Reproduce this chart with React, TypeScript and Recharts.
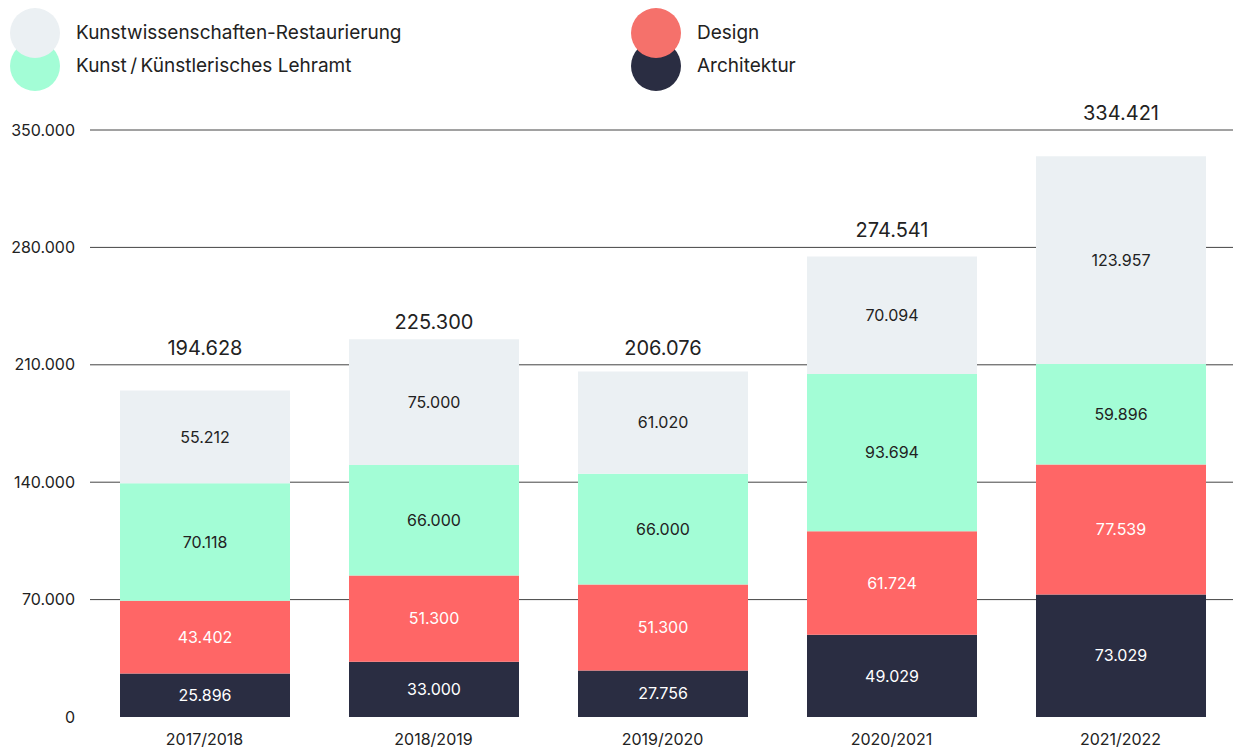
import React from 'react';
import { BarChart, Bar, XAxis, YAxis, CartesianGrid, LabelList } from 'recharts';

const CATEGORIES = ['2017/2018', '2018/2019', '2019/2020', '2020/2021', '2021/2022'];
const ARCHITEKTUR = [25896, 33000, 27756, 49029, 73029];
const DESIGN = [43402, 51300, 51300, 61724, 77539];
const LEHRAMT = [70118, 66000, 66000, 93694, 59896];
const RESTAURIERUNG = [55212, 75000, 61020, 70094, 123957];
const TOTALS = [194628, 225300, 206076, 274541, 334421];
const Y_TICKS = [0, 70000, 140000, 210000, 280000, 350000];

const COLORS = {
  restaurierung: '#ebf0f3',
  lehramt: '#a3fdd6',
  design: '#ff6666',
  architektur: '#2a2d42',
};

const LEGEND = [
  { name: 'Kunstwissenschaften-Restaurierung', color: COLORS.restaurierung },
  { name: 'Kunst\u2009/\u2009Künstlerisches Lehramt', color: COLORS.lehramt },
  { name: 'Design', color: '#f5716b' },
  { name: 'Architektur', color: COLORS.architektur },
];

const data = CATEGORIES.map((year, i) => ({
  year,
  architektur: ARCHITEKTUR[i],
  design: DESIGN[i],
  lehramt: LEHRAMT[i],
  restaurierung: RESTAURIERUNG[i],
}));

const fmt = (v: number) => String(v).replace(/\B(?=(\d{3})+(?!\d))/g, '.');

// total above the stack, nudged above a gridline when it would sit on it
const TotalLabel = (props: any) => {
  const vb = props.viewBox ?? {};
  const x = props.x ?? vb.x;
  const y = props.y ?? vb.y;
  const width = props.width ?? vb.width;
  const height = props.height ?? vb.height;
  const index = props.index;
  if (index == null || !height) return null;
  const k = height / RESTAURIERUNG[index];
  const bottom = y + k * TOTALS[index];
  let ly = y - 17;
  Y_TICKS.forEach((t) => {
    if (t === 0) return;
    const gy = bottom - k * t;
    if (Math.abs(ly - gy) < 12) ly = gy - 17;
  });
  return (
    <text x={x + width / 2} y={ly} textAnchor="middle" dominantBaseline="central" fontSize={20} fill="#222">
      {fmt(TOTALS[index])}
    </text>
  );
};

// grid line, left out at the baseline
const GridLine = (p: any) => {
  if (Math.abs(p.y1 - (p.y + p.height)) < 1) return <g key={p.key} />;
  return <line key={p.key} x1={p.x1} y1={p.y1} x2={p.x2} y2={p.y2} stroke="#444" strokeWidth={1} />;
};

const Legend = () => (
  <div style={{ position: 'absolute', left: 0, top: 0, width: 1233, height: 100, zIndex: 2 }}>
    {LEGEND.map((item, i) => {
      const col = i < 2 ? 0 : 1;
      const row = i % 2;
      const cx = col === 0 ? 35 : 656;
      const cy = row === 0 ? 33 : 66;
      return (
        <React.Fragment key={item.name}>
          <div
            style={{
              position: 'absolute',
              left: cx - 25,
              top: cy - 25,
              width: 50,
              height: 50,
              borderRadius: '50%',
              background: item.color,
              zIndex: row === 0 ? 2 : 1,
            }}
          />
          <div
            style={{
              position: 'absolute',
              left: cx + 41,
              top: cy - 12,
              height: 24,
              lineHeight: '24px',
              fontSize: 19,
              color: '#222',
              whiteSpace: 'nowrap',
            }}
          >
            {item.name}
          </div>
        </React.Fragment>
      );
    })}
  </div>
);

export default function App() {
  return (
    <div
      style={{
        position: 'absolute',
        left: 0,
        top: 0,
        width: 1233,
        height: 749,
        overflow: 'hidden',
        background: '#fff',
        fontFamily: 'Inter, "Noto Sans", sans-serif',
      }}
    >
      <Legend />
      <BarChart
        width={1235}
        height={749}
        data={data}
        margin={{ top: 130, right: 0, bottom: 2, left: 0 }}
        barSize={170}
      >
        <CartesianGrid vertical={false} stroke="#444" horizontal={GridLine} />
        <XAxis
          dataKey="year"
          axisLine={false}
          tickLine={false}
          tickSize={0}
          tickMargin={17}
          height={30}
          tick={{ fill: '#222', fontSize: 16 }}
        />
        <YAxis
          width={90}
          domain={[0, 350000]}
          ticks={Y_TICKS}
          axisLine={false}
          tickLine={false}
          tickSize={0}
          tickMargin={15}
          tickFormatter={fmt}
          tick={{ fill: '#222', fontSize: 16 }}
        />
        <Bar dataKey="architektur" stackId="a" fill={COLORS.architektur} isAnimationActive={false}>
          <LabelList dataKey="architektur" position="center" formatter={fmt} fill="#fff" fontSize={16} />
        </Bar>
        <Bar dataKey="design" stackId="a" fill={COLORS.design} isAnimationActive={false}>
          <LabelList dataKey="design" position="center" formatter={fmt} fill="#fff" fontSize={16} />
        </Bar>
        <Bar dataKey="lehramt" stackId="a" fill={COLORS.lehramt} isAnimationActive={false}>
          <LabelList dataKey="lehramt" position="center" formatter={fmt} fill="#222" fontSize={16} />
        </Bar>
        <Bar dataKey="restaurierung" stackId="a" fill={COLORS.restaurierung} isAnimationActive={false}>
          <LabelList dataKey="restaurierung" position="center" formatter={fmt} fill="#222" fontSize={16} />
          <LabelList dataKey="restaurierung" content={TotalLabel} />
        </Bar>
      </BarChart>
    </div>
  );
}
